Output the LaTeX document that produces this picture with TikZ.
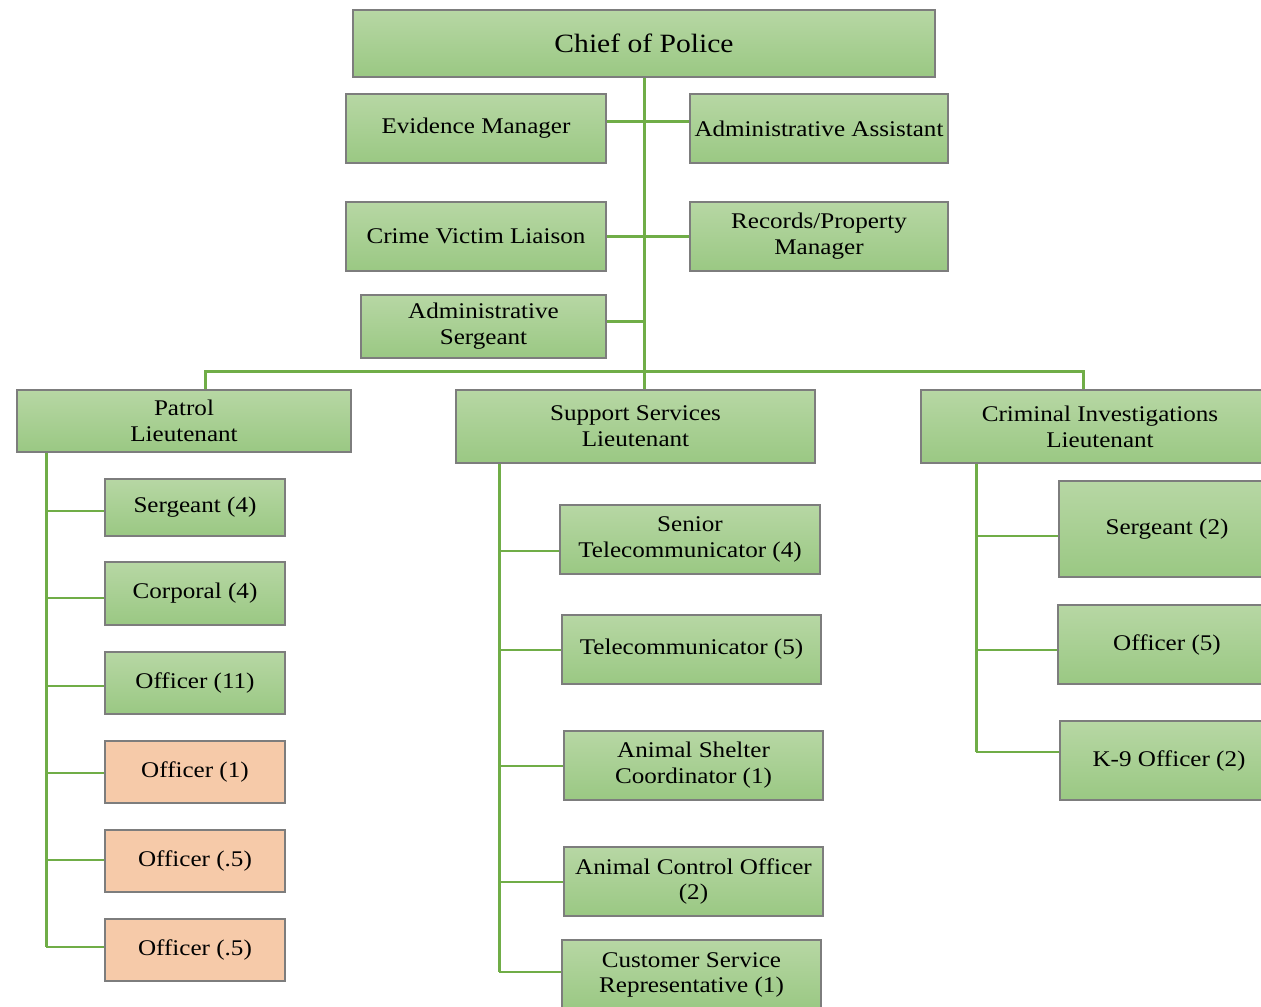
\documentclass[tikz,border=0pt]{standalone}
\usepackage{fontspec}
\setmainfont{Liberation Serif}[FakeStretch=1.12]
\usepackage{tikz}
\definecolor{gtop}{RGB}{183,215,164}
\definecolor{gbot}{RGB}{154,200,131}
\definecolor{peach}{RGB}{246,202,169}
\definecolor{bord}{RGB}{125,125,125}
\definecolor{lgreen}{RGB}{112,173,71}
\tikzset{
  base/.style={draw=bord, line width=1.3bp, inner sep=2bp, align=center, text=black,
    font=\fontsize{22.5}{26}\selectfont},
  gbox/.style={base, top color=gtop, bottom color=gbot},
  pbox/.style={base, fill=peach},
  sz/.style 2 args={minimum width=#1bp, minimum height=#2bp},
  thickln/.style={draw=lgreen, line width=3bp},
  thinln/.style={draw=lgreen, line width=1.2bp},
}
\begin{document}
\begin{tikzpicture}[x=1bp,y=-1bp]
\useasboundingbox (0,0) rectangle (1261,1007);
% top
\node[gbox, sz={582}{67}, font=\fontsize{26.5}{30}\selectfont] (chief) at (644,43.5) {Chief of Police};
\node[gbox, sz={260}{69}] (evid) at (476,128.5) {Evidence Manager};
\node[gbox, sz={258}{69}] (asst) at (819,128.5) {Administrative Assistant};
\node[gbox, sz={260}{69}] (cvl) at (476,236.5) {Crime Victim Liaison};
\node[gbox, sz={258}{69}] (rec) at (819,236.5) {Records/Property\\Manager};
\node[gbox, sz={245}{63}] (asgt) at (483.5,326.5) {Administrative\\Sergeant};
% lieutenants
\node[gbox, sz={334}{62}] (patrol) at (184,421) {Patrol\\Lieutenant};
\node[gbox, sz={359}{73}] (supp) at (635.5,426.5) {Support Services\\Lieutenant};
\node[gbox, sz={358}{73}] (crim) at (1100,426.5) {Criminal Investigations\\Lieutenant};
% patrol children
\node[gbox, sz={180}{57}] (p1) at (195,507.5) {Sergeant (4)};
\node[gbox, sz={180}{63}] (p2) at (195,593.5) {Corporal (4)};
\node[gbox, sz={180}{62}] (p3) at (195,683) {Officer (11)};
\node[pbox, sz={180}{62}] (p4) at (195,772) {Officer (1)};
\node[pbox, sz={180}{62}] (p5) at (195,861) {Officer (.5)};
\node[pbox, sz={180}{62}] (p6) at (195,950) {Officer (.5)};
% support children
\node[gbox, sz={260}{69}] (s1) at (690,539.5) {Senior\\Telecommunicator (4)};
\node[gbox, sz={259}{69}] (s2) at (691.5,649.5) {Telecommunicator (5)};
\node[gbox, sz={259}{69}] (s3) at (693.5,765.5) {Animal Shelter\\Coordinator (1)};
\node[gbox, sz={259}{69}] (s4) at (693.5,881.5) {Animal Control Officer\\(2)};
\node[gbox, sz={259}{70}] (s5) at (691.5,975) {Customer Service\\Representative (1)};
% criminal children
\node[gbox, sz={216}{96}] (c1) at (1167,529) {Sergeant (2)};
\node[gbox, sz={218}{79}] (c2) at (1167,644.5) {Officer (5)};
\node[gbox, sz={218}{79}] (c3) at (1169,760.5) {K-9 Officer (2)};

% connectors
\coordinate (bar) at (chief.south |- 0,371);
\draw[thickln] (chief.south) -- (chief.south |- supp.north);
\draw[thickln] ([yshift=7bp]evid.east) -- ([yshift=7bp]asst.west);
\draw[thickln] (cvl.east) -- (rec.west);
\coordinate (asgtc) at ([yshift=5bp]asgt.east);
\draw[thickln] (asgtc) -- (asgtc -| chief.south);
\draw[thickln] ([xshift=21bp]patrol.north) |- (bar) -| ([xshift=-17bp]crim.north);

% patrol spine
\coordinate (pt) at ([xshift=30bp]patrol.south west);
\foreach \n/\dy in {p1/-3.5,p2/-4.5,p3/-3,p4/-1,p5/1,p6/3}{
  \coordinate (b-\n) at ([yshift=\dy bp]\n.west);
  \draw[thinln] (pt |- b-\n) -- (b-\n);
}
\draw[thickln] (pt) -- (pt |- b-p6);
% support spine
\coordinate (st) at ([xshift=44bp]supp.south west);
\foreach \n/\dy in {s1/-11.5,s2/-0.5,s3/-0.5,s4/-0.5,s5/3}{
  \coordinate (b-\n) at ([yshift=\dy bp]\n.west);
  \draw[thinln] (st |- b-\n) -- (b-\n);
}
\draw[thickln] (st) -- (st |- b-s5);
% criminal spine
\coordinate (ct) at ([xshift=56bp]crim.south west);
\foreach \n/\dy in {c1/-7,c2/-5.5,c3/8.5}{
  \coordinate (b-\n) at ([yshift=\dy bp]\n.west);
  \draw[thinln] (ct |- b-\n) -- (b-\n);
}
\draw[thickln] (ct) -- (ct |- b-c3);
\end{tikzpicture}
\end{document}
